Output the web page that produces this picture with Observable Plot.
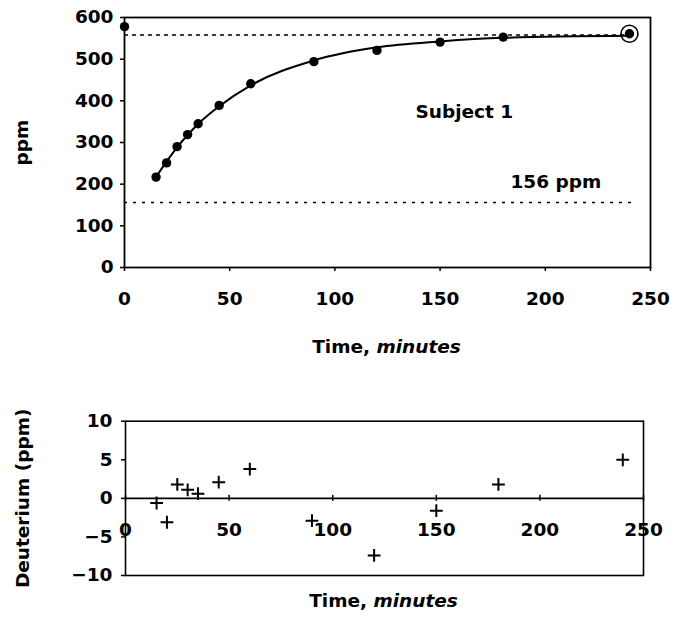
<!DOCTYPE html>
<html><head><meta charset="utf-8">
<script src="https://cdn.jsdelivr.net/npm/d3@7"></script>
<script src="https://cdn.jsdelivr.net/npm/@observablehq/plot@0.6"></script>
<style>
body{margin:0;background:#fff;}
#chart svg{display:block;}
</style></head><body><div id="chart"></div>
<script>
// Observed breath deuterium (ppm) vs time (minutes)
const times = [0, 15, 20, 25, 30, 35, 45, 60, 90, 120, 150, 180, 240];
const ppmObserved = [578, 217, 251, 290, 319, 345, 389, 441, 494, 521, 541, 553, 561];
// Fitted curve values
const fitTimes = [15, 20, 25, 30, 35, 45, 60, 90, 120, 150, 180, 240];
const ppmFitted = [217.3, 254.1, 288.2, 317.9, 344.4, 386.9, 437.2, 496.9, 528.4, 542.6, 551.2, 556.0];
// Residuals (lower panel)
const residuals = [-0.6, -3.1, 1.8, 1.1, 0.6, 2.1, 3.8, -2.9, -7.4, -1.6, 1.8, 5.0];
const plateauPpm = 558;
const baselinePpm = 156;
const circledTime = 240;
const xTicks = [0, 50, 100, 150, 200, 250];
const yTicksTop = [0, 100, 200, 300, 400, 500, 600];
const yTicksBottom = [-10, -5, 0, 5, 10];
const subjectLabel = "Subject 1";
const baselineLabel = "156 ppm";

const observed = times.map((t, i) => ({t, ppm: ppmObserved[i]}));
const fitted = fitTimes.map((t, i) => ({t, ppm: ppmFitted[i]}));
const resid = fitTimes.map((t, i) => ({t, r: residuals[i]}));

const font = {fontFamily: "'DejaVu Sans', sans-serif", fontSize: "18.5px", fontWeight: "bold", color: "#000", background: "#fff", overflow: "visible"};
const lbl = {text: d => d, fill: "#000", textAnchor: "middle", lineAnchor: "middle"};

function timeLabel(dy) {
  return [
    Plot.text(["Time,"], {...lbl, frameAnchor: "bottom", textAnchor: "end", dx: -17.5, dy}),
    Plot.text(["minutes"], {...lbl, frameAnchor: "bottom", textAnchor: "start", dx: -11, dy, fontStyle: "italic"})
  ];
}

const topPlot = Plot.plot({
  width: 677, height: 360,
  marginTop: 17, marginBottom: 93, marginLeft: 124, marginRight: 27,
  style: font,
  x: {domain: [0, 250]},
  y: {domain: [0, 600]},
  marks: [
    Plot.ruleY([plateauPpm], {x1: 0, x2: 242, stroke: "#000", strokeWidth: 1.4, strokeDasharray: "4,4"}),
    Plot.ruleY([baselinePpm], {x1: 0, x2: 242, stroke: "#000", strokeWidth: 1.6, strokeDasharray: "3,6"}),
    Plot.axisY({ticks: yTicksTop, tickSize: 4, tickPadding: 7, label: null, stroke: "#000", strokeWidth: 1.5}),
    Plot.axisX({ticks: xTicks, tickSize: 4, tickPadding: 20.5, label: null, stroke: "#000", strokeWidth: 1.5}),
    Plot.frame({stroke: "#000", strokeWidth: 1.8}),
    Plot.line(fitted, {x: "t", y: "ppm", curve: "monotone-x", stroke: "#000", strokeWidth: 2}),
    Plot.dot(observed, {x: "t", y: "ppm", r: 4.7, fill: "#000"}),
    Plot.dot(observed.filter(d => d.t === circledTime), {x: "t", y: "ppm", r: 8.5, stroke: "#000", strokeWidth: 1.6, fill: "none"}),
    Plot.text([subjectLabel], {...lbl, x: 161.5, y: 372}),
    Plot.text([baselineLabel], {...lbl, x: 205, y: 206}),
    Plot.text(["ppm"], {...lbl, frameAnchor: "left", rotate: -90, dx: -102}),
    ...timeLabel(80)
  ]
});

const bottomPlot = Plot.plot({
  width: 677, height: 265,
  marginTop: 60.7, marginBottom: 50, marginLeft: 125, marginRight: 34,
  style: font,
  x: {domain: [0, 250], axis: null},
  y: {domain: [-10, 10]},
  marks: [
    Plot.frame({stroke: "#000", strokeWidth: 1.6}),
    Plot.axisY({ticks: yTicksBottom, tickSize: 4, tickPadding: 9, label: null, stroke: "#000", strokeWidth: 1.5}),
    Plot.ruleY([0], {stroke: "#000", strokeWidth: 1.6}),
    Plot.ruleX(xTicks, {x: d => d, y1: 0, y2: 0, insetTop: -3, insetBottom: -3, stroke: "#000", strokeWidth: 1.5}),
    Plot.text(xTicks, {...lbl, x: d => d, y: 0, dy: 32, text: d => String(d)}),
    Plot.dot(resid, {x: "t", y: "r", symbol: "plus", r: 4.2, stroke: "#000", strokeWidth: 2}),
    Plot.text(["Deuterium (ppm)"], {...lbl, frameAnchor: "left", rotate: -90, dx: -102.5}),
    ...timeLabel(26)
  ]
});

const chart = document.getElementById("chart");
chart.appendChild(topPlot);
chart.appendChild(bottomPlot);
</script>
</body></html>
